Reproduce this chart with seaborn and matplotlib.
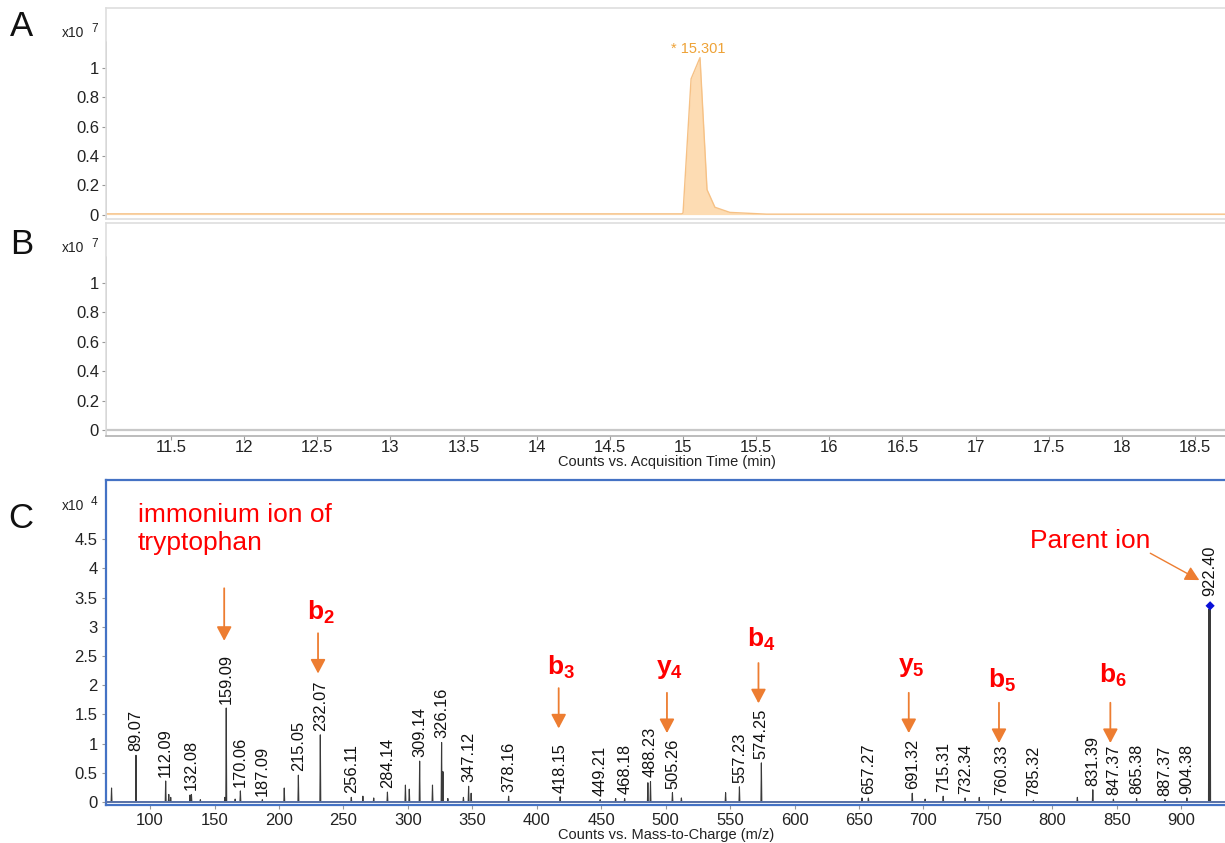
import numpy as np
import pandas as pd
import seaborn as sns
import matplotlib.pyplot as plt
from matplotlib.ticker import FuncFormatter, MultipleLocator

sns.set_theme(style='white')
plt.rcParams['font.family'] = ['Liberation Sans', 'DejaVu Sans']
plt.rcParams['mathtext.fontset'] = 'custom'
plt.rcParams['mathtext.rm'] = 'Liberation Sans'
plt.rcParams['mathtext.bf'] = 'Liberation Sans:bold'

# --- data -------------------------------------------------------------
# A: chromatogram, counts x10^7 vs time (min)
eic_time = [11.06, 14.99, 15.00, 15.055, 15.116, 15.164, 15.218, 15.32, 15.57, 18.72]
eic_counts = [0.005, 0.005, 0.01, 0.925, 1.07, 0.17, 0.05, 0.015, 0.003, 0.003]
eic_peak_label = '* 15.301'

# B: blank chromatogram
blank_time = [11.06, 13.0, 15.0, 17.0, 18.72]
blank_counts = [0.0, 0.0, 0.0, 0.0, 0.0]

# C: MS/MS spectrum, counts x10^4 vs m/z
lab_mz = [89.07, 112.09, 132.08, 159.09, 170.06, 187.09, 215.05, 232.07, 256.11,
          284.14, 309.14, 326.16, 347.12, 378.16, 418.15, 449.21, 468.18, 488.23,
          505.26, 557.23, 574.25, 657.27, 691.32, 715.31, 732.34, 760.33, 785.32,
          831.39, 847.37, 865.38, 887.37, 904.38, 922.40]
lab_int = [0.80, 0.36, 0.13, 1.61, 0.19, 0.04, 0.46, 1.15, 0.08,
           0.17, 0.70, 1.02, 0.27, 0.10, 0.09, 0.04, 0.06, 0.35,
           0.16, 0.26, 0.67, 0.07, 0.15, 0.10, 0.07, 0.05, 0.03,
           0.21, 0.05, 0.06, 0.04, 0.07, 3.36]
minor_mz = [70.1, 114.5, 116.0, 131.0, 139.0, 158.0, 166.0, 204.1, 265.1, 273.5,
            298.1, 301.1, 319.1, 327.2, 331.0, 343.1, 349.1, 461.2, 486.2, 512.2,
            546.5, 652.3, 701.3, 743.3, 819.4, 921.5]
minor_int = [0.24, 0.13, 0.08, 0.12, 0.04, 0.08, 0.05, 0.24, 0.10, 0.07,
             0.29, 0.22, 0.29, 0.52, 0.06, 0.08, 0.15, 0.06, 0.33, 0.07,
             0.16, 0.07, 0.05, 0.08, 0.08, 3.30]
parent_mz = 922.40
parent_int = 3.36

frag_names = ['b_2', 'b_3', 'y_4', 'b_4', 'y_5', 'b_5', 'b_6']
frag_mz = [230.3, 417.0, 501.0, 572.0, 688.6, 758.6, 845.0]

# --- figure -----------------------------------------------------------
W, H = 1225, 843
fig = plt.figure(figsize=(W / 100, H / 100), dpi=100)


def box(top, bottom, left=106, right=1227):
    return [left / W, 1 - bottom / H, (right - left) / W, (bottom - top) / H]


axA = fig.add_axes(box(8, 219))
axB = fig.add_axes(box(223, 436))
axC = fig.add_axes(box(480, 805))

orange_txt = '#eea236'
arrow_col = '#ed7d31'
red = '#ff0000'

# ---- A ----
eic = pd.DataFrame({'time': eic_time, 'counts': eic_counts})
axA.fill_between(eic['time'], 0, eic['counts'], color='#fddcb3', lw=0)
sns.lineplot(data=eic, x='time', y='counts', ax=axA, color='#f6c185', lw=1.0)
pk = eic['counts'].idxmax()
axA.annotate(eic_peak_label, (eic['time'][pk], eic['counts'][pk]), xytext=(-1, 1),
             textcoords='offset points', ha='center', va='bottom',
             fontsize=10.5, color=orange_txt)

# ---- B ----
blank = pd.DataFrame({'time': blank_time, 'counts': blank_counts})
sns.lineplot(data=blank, x='time', y='counts', ax=axB, color='#c8c8c8', lw=1.6)

for ax in (axA, axB):
    ax.set_xlim(11.056, 18.718)
    ax.set_ylim(-0.03, 1.408)
    ax.set_yticks([0, 0.2, 0.4, 0.6, 0.8, 1.0])
    ax.yaxis.set_major_formatter(FuncFormatter(lambda v, p: '%g' % round(v, 2)))
    for s in ax.spines.values():
        s.set_color('#dedede')
        s.set_linewidth(1.2)
    ax.axvline(11.056, ymin=0, ymax=0.84, color='#a8a8a8', lw=1.2)
    ax.tick_params(axis='y', direction='out', length=3, width=0.8, color='#999999',
                   labelsize=12, labelcolor='#222222', pad=2, left=True)
    ax.set_ylabel('')
    ax.set_xlabel('')
axB.set_ylim(-0.041, 1.408)
axA.set_xticks([])
axB.xaxis.set_major_locator(MultipleLocator(0.5))
axB.xaxis.set_major_formatter(FuncFormatter(lambda v, p: '%g' % v))
axB.tick_params(axis='x', direction='out', length=3, width=0.8, color='#999999',
                labelsize=12, labelcolor='#222222', pad=0, bottom=True)
axB.spines['bottom'].set_color('#b0b0b0')
axB.set_xlabel('Counts vs. Acquisition Time (min)', fontsize=10.5, color='#222222',
               labelpad=0)

# ---- C ----
mz_all = np.array(lab_mz + minor_mz)
int_all = np.array(lab_int + minor_int)
order = np.argsort(mz_all)
prof_x, prof_y = [66.0], [0.0]
for m, h in zip(mz_all[order], int_all[order]):
    prof_x += [m - 0.35, m, m + 0.35]
    prof_y += [0.0, h, 0.0]
prof_x.append(936.0)
prof_y.append(0.0)
spec = pd.DataFrame({'mz': prof_x, 'counts': prof_y})
sns.lineplot(data=spec, x='mz', y='counts', ax=axC, sort=False, estimator=None,
             color='#3a3a3a', lw=0.8)
axC.axhline(0, color='#5a73a8', lw=1.4, zorder=3)
sns.scatterplot(x=[parent_mz], y=[parent_int], ax=axC, marker='D', s=22,
                color='#0a10d8', edgecolor='none', zorder=5)

for m, h in zip(lab_mz, lab_int):
    off = 7 if m == parent_mz else 3
    axC.annotate('%.2f' % m, (m, h), xytext=(0, off), textcoords='offset points',
                 rotation=90, ha='center', va='bottom', fontsize=11.8, color='#111111')

axC.set_xlim(65.8, 935.5)
axC.set_ylim(-0.051, 5.514)
axC.xaxis.set_major_locator(MultipleLocator(50))
axC.set_yticks(np.arange(0, 4.51, 0.5))
axC.yaxis.set_major_formatter(FuncFormatter(lambda v, p: '%g' % v))
for s in axC.spines.values():
    s.set_color('#4472c4')
    s.set_linewidth(1.6)
axC.tick_params(axis='both', direction='out', length=3, width=0.8, color='#999999',
                labelsize=12, labelcolor='#222222', pad=3, left=True, bottom=True)
axC.set_ylabel('')
axC.set_xlabel('Counts vs. Mass-to-Charge (m/z)', fontsize=10.5, color='#222222',
               labelpad=0)

arrow_kw = dict(arrowstyle='-|>,head_length=0.85,head_width=0.45', color=arrow_col,
                lw=1.3, mutation_scale=10, shrinkA=0, shrinkB=0)

# immonium ion arrow + label
axC.annotate('', xy=(157.5, 2.76), xytext=(157.5, 3.66), arrowprops=arrow_kw)
axC.text(90.7, 4.67, 'immonium ion of\ntryptophan', fontsize=19, color=red,
         ha='left', va='center', linespacing=1.22)

# fragment arrows and labels
frag_text_y = [3.25, 2.31, 2.28, 2.79, 2.31, 2.09, 2.17]
frag_tail = [2.89, 1.95, 1.87, 2.38, 1.87, 1.70, 1.70]
for name, m, ty, tail in zip(frag_names, frag_mz, frag_text_y, frag_tail):
    axC.annotate('', xy=(m, tail - 0.69), xytext=(m, tail), arrowprops=arrow_kw)
    axC.text(m + 2, ty, r'$\mathbf{%s}$' % name, fontsize=19, color=red,
             ha='center', va='center')

# parent ion
axC.annotate('', xy=(914, 3.80), xytext=(876, 4.26),
             arrowprops=dict(arrow_kw, lw=1.0))
axC.text(829, 4.47, 'Parent ion', fontsize=19, color=red, ha='center', va='center')

# --- panel letters and exponents -------------------------------------
def ftext(x, y, s, **kw):
    fig.text(x / W, 1 - y / H, s, **kw)


ftext(22, 27, 'A', fontsize=25, ha='center', va='center', color='#111111')
ftext(22, 245, 'B', fontsize=25, ha='center', va='center', color='#111111')
ftext(21, 519, 'C', fontsize=25, ha='center', va='center', color='#111111')
for y, e in ((33, '7'), (248, '7'), (506, '4')):
    ftext(62, y, 'x10', fontsize=10, ha='left', va='center', color='#222222')
    ftext(91, y - 4, e, fontsize=8.5, ha='left', va='center', color='#222222')

fig.savefig('out.png', dpi=100)
